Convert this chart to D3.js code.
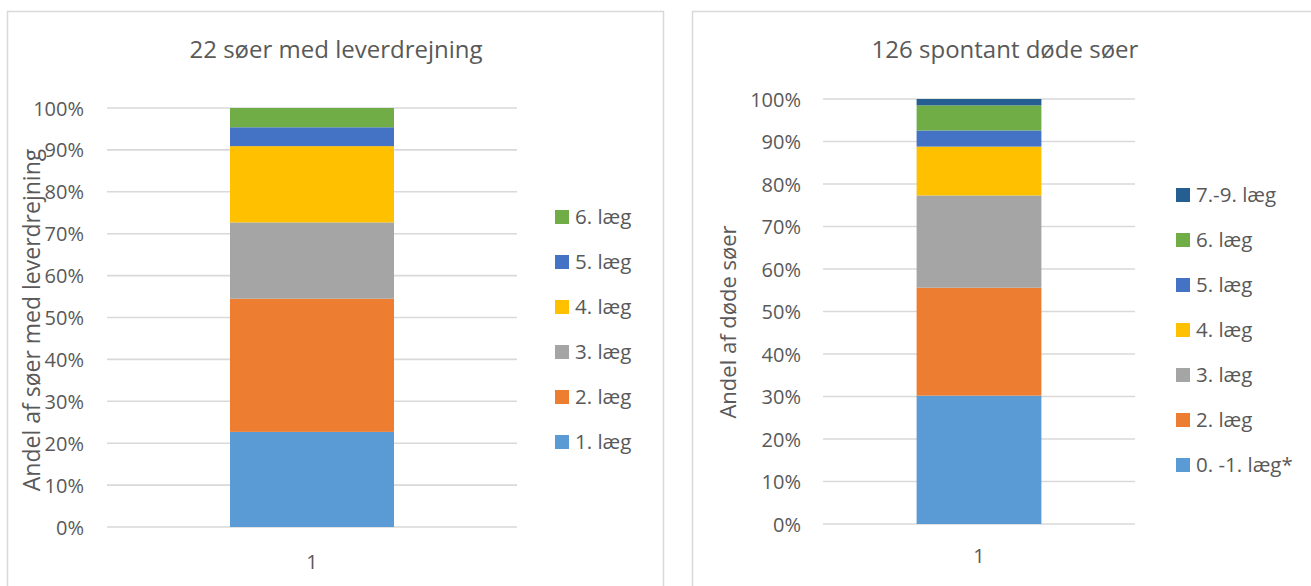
<!DOCTYPE html>
<html>
<head>
<meta charset="utf-8">
<script src="https://cdn.jsdelivr.net/npm/d3@7"></script>
<style>
  html, body { margin: 0; padding: 0; background: #fff; }
  svg text { font-family: "Open Sans", "Liberation Sans", sans-serif; fill: #595959; }
</style>
</head>
<body>
<svg id="chart" width="1311" height="586"></svg>
<script>
// Share of sows by parity (percent of each group)
const categories = ["1"];
const yTicks = [0, 10, 20, 30, 40, 50, 60, 70, 80, 90, 100];

// Left panel: 22 sows with liver torsion
const leftTitle = "22 søer med leverdrejning";
const leftAxisLabel = "Andel af søer med leverdrejning";
const leftSeries = ["1. læg", "2. læg", "3. læg", "4. læg", "5. læg", "6. læg"];
const leftValues = [22.7, 31.8, 18.2, 18.2, 4.5, 4.6];
const leftColors = ["#5B9BD5", "#ED7D31", "#A5A5A5", "#FFC000", "#4472C4", "#70AD47"];

// Right panel: 126 sows that died spontaneously
const rightTitle = "126 spontant døde søer";
const rightAxisLabel = "Andel af døde søer";
const rightSeries = ["0. -1. læg*", "2. læg", "3. læg", "4. læg", "5. læg", "6. læg", "7.-9. læg"];
const rightValues = [30.2, 25.4, 21.7, 11.5, 3.8, 5.9, 1.5];
const rightColors = ["#5B9BD5", "#ED7D31", "#A5A5A5", "#FFC000", "#4472C4", "#70AD47", "#255E91"];

const svg = d3.select("#chart");

function drawPanel(cfg) {
  const g = svg.append("g");

  // chart frame
  g.append("rect")
    .attr("x", cfg.frame[0] + 0.5).attr("y", cfg.frame[1] + 0.5)
    .attr("width", cfg.frame[2]).attr("height", cfg.frame[3])
    .attr("fill", "#fff").attr("stroke", "#D9D9D9").attr("stroke-width", 1.5);

  g.append("text")
    .attr("x", cfg.titleX).attr("y", cfg.titleY)
    .attr("text-anchor", "middle")
    .style("font-size", "24px")
    .text(cfg.title);

  const x = d3.scaleBand().domain(categories).range([cfg.plot.x0, cfg.plot.x1]).paddingInner(0.6).paddingOuter(0.3);
  const y = d3.scaleLinear().domain([0, 100]).range([cfg.plot.y0, cfg.plot.y1]);

  // gridlines
  g.append("g").selectAll("line").data(yTicks).join("line")
    .attr("x1", cfg.plot.x0).attr("x2", cfg.plot.x1)
    .attr("y1", d => y(d)).attr("y2", d => y(d))
    .attr("stroke", "#D9D9D9").attr("stroke-width", 1.6);

  // y axis tick labels
  const yAxis = d3.axisLeft(y).tickValues(yTicks).tickFormat(d => d + "%").tickSize(0).tickPadding(0);
  const ya = g.append("g").attr("transform", `translate(${cfg.tickRight},0)`).call(yAxis);
  ya.select(".domain").remove();
  ya.selectAll("text").style("font-size", "20px").attr("fill", "#595959").attr("font-family", null).attr("dy", "0.35em");

  // x axis label
  const xAxis = d3.axisBottom(x).tickSize(0).tickPadding(0);
  const xa = g.append("g").attr("transform", `translate(0,${cfg.xLabelY})`).call(xAxis);
  xa.select(".domain").remove();
  xa.selectAll("text").style("font-size", "20px").attr("fill", "#595959").attr("font-family", null);

  // stacked segments
  const row = {};
  cfg.series.forEach((s, i) => row[s] = cfg.values[i]);
  const stacked = d3.stack().keys(cfg.series)([Object.assign({cat: categories[0]}, row)]);
  g.append("g").selectAll("rect").data(stacked).join("rect")
    .attr("x", x(categories[0]))
    .attr("width", x.bandwidth())
    .attr("y", d => y(d[0][1]))
    .attr("height", d => y(d[0][0]) - y(d[0][1]))
    .attr("fill", (d, i) => cfg.colors[i]);

  // vertical axis title
  g.append("text")
    .attr("transform", `translate(${cfg.axisLabelX},${cfg.axisLabelY}) rotate(-90)`)
    .attr("text-anchor", "middle")
    .style("font-size", cfg.axisLabelSize)
    .text(cfg.axisLabel);

  // legend, listed top-down in reverse stacking order
  const items = cfg.series.map((s, i) => ({ s, c: cfg.colors[i] })).reverse();
  const lg = g.append("g").selectAll("g").data(items).join("g")
    .attr("transform", (d, i) => `translate(${cfg.legendX},${cfg.legendY + i * 45})`);
  lg.append("rect").attr("x", 0).attr("y", -7).attr("width", 14).attr("height", 14).attr("fill", d => d.c);
  lg.append("text").attr("x", 20).attr("dy", "0.35em").style("font-size", "20.5px").text(d => d.s);
}

drawPanel({
  frame: [7, 11, 656, 600],
  title: leftTitle, titleX: 336, titleY: 58,
  plot: { x0: 107, x1: 517, y0: 527, y1: 108 },
  tickRight: 84, xLabelY: 555,
  series: leftSeries, values: leftValues, colors: leftColors,
  axisLabel: leftAxisLabel, axisLabelX: 40, axisLabelY: 320, axisLabelSize: "23px",
  legendX: 555, legendY: 217
});

drawPanel({
  frame: [692, 11, 640, 600],
  title: rightTitle, titleX: 1005, titleY: 58,
  plot: { x0: 823, x1: 1135, y0: 524, y1: 99 },
  tickRight: 801, xLabelY: 549,
  series: rightSeries, values: rightValues, colors: rightColors,
  axisLabel: rightAxisLabel, axisLabelX: 736, axisLabelY: 322, axisLabelSize: "22px",
  legendX: 1176, legendY: 195
});
</script>
</body>
</html>
